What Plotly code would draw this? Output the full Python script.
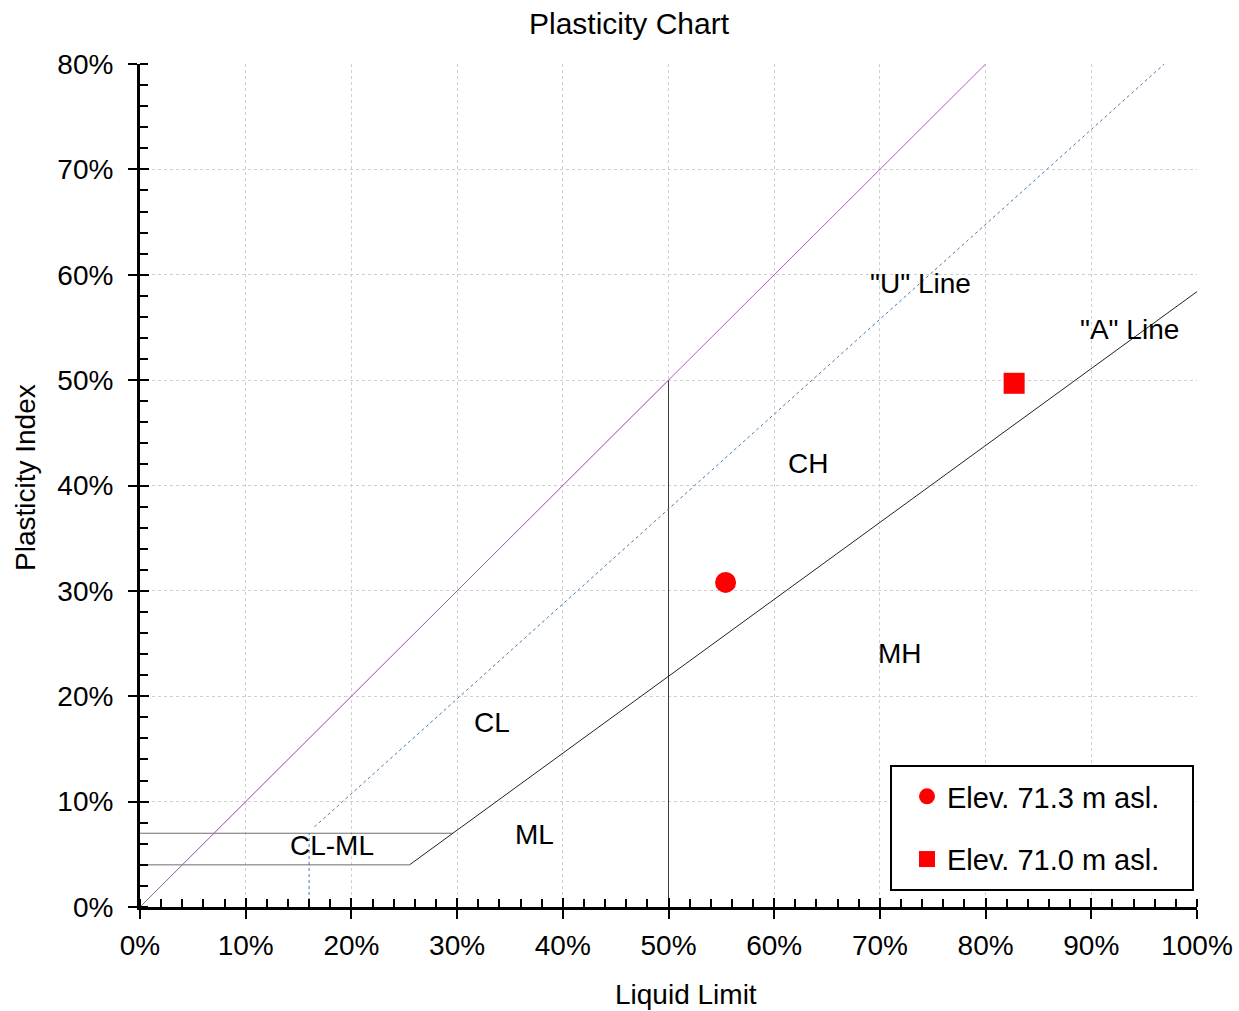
import plotly.graph_objects as go

# Casagrande plasticity chart: liquid limit (LL, %) vs plasticity index (PI, %)

# Reference lines (LL, PI pairs in %)
upper_ll = [0, 80]
upper_pi = [0, 80]
upper_lower_ll = [0, 50]
upper_lower_pi = [0, 50]
u_line_ll = [16.5, 96.9]
u_line_pi = [7.6, 80.0]
u_vert_ll = [16.0, 16.0]
u_vert_pi = [0.0, 7.0]
a_line_ll = [25.5, 29.6, 100.0]
a_line_pi = [4.0, 7.0, 58.4]
clml_top_ll = [0, 29.6]
clml_top_pi = [7.0, 7.0]
clml_bot_ll = [0, 25.5]
clml_bot_pi = [4.0, 4.0]
ll50_ll = [50, 50]
ll50_pi = [0, 50]

# Samples
sample_names = ["Elev. 71.3 m asl.", "Elev. 71.0 m asl."]
sample_ll = [55.4, 82.7]
sample_pi = [30.8, 49.7]

# Zone labels
zone_text = ["CL-ML", "CL", "ML", "CH", "MH", '"U" Line', '"A" Line']
zone_ll = [18.2, 33.3, 37.3, 63.2, 71.9, 73.8, 93.6]
zone_pi = [5.8, 17.5, 6.9, 42.1, 24.1, 59.2, 54.8]

x_ticks = [0, 10, 20, 30, 40, 50, 60, 70, 80, 90, 100]
y_ticks = [0, 10, 20, 30, 40, 50, 60, 70, 80]
x_tick_text = [f"{v}%" for v in x_ticks]
y_tick_text = [f"{v}%" for v in y_ticks]

FONT = "Arial, Liberation Sans, sans-serif"
FS = 28
fig = go.Figure()

def line(xs, ys, color, width=1, dash="solid", opacity=1.0):
    fig.add_trace(go.Scatter(x=xs, y=ys, mode="lines", showlegend=False,
                             hoverinfo="skip", opacity=opacity,
                             line=dict(color=color, width=width, dash=dash)))

line(clml_top_ll, clml_top_pi, "#6e6e6e")
line(clml_bot_ll, clml_bot_pi, "#6e6e6e")
line(ll50_ll, ll50_pi, "#3c3c3c")
line(upper_ll, upper_pi, "#b45cc4")
line(upper_lower_ll, upper_lower_pi, "#707070", opacity=0.35)
line(u_vert_ll, u_vert_pi, "#4a76b0", dash="dot")
line(u_line_ll, u_line_pi, "#4a76b0", dash="dot")
line(a_line_ll, a_line_pi, "#222222")

fig.add_trace(go.Scatter(x=[sample_ll[0]], y=[sample_pi[0]], mode="markers",
                         name=sample_names[0], legendgroup="a",
                         marker=dict(symbol="circle", size=21, color="#ff0000")))
fig.add_trace(go.Scatter(x=[sample_ll[1]], y=[sample_pi[1]], mode="markers",
                         name=sample_names[1], legendgroup="b",
                         marker=dict(symbol="square", size=21, color="#ff0000")))

# Inner halves of the major ticks (drawn by an overlaying axis pair)
fig.add_trace(go.Scatter(x=[None], y=[None], xaxis="x2", yaxis="y2",
                         showlegend=False, hoverinfo="skip"))

for t, lx, ly in zip(zone_text, zone_ll, zone_pi):
    fig.add_annotation(x=lx, y=ly, text=t, showarrow=False,
                       font=dict(size=FS, color="black", family=FONT))

fig.add_annotation(text="Liquid Limit", xref="paper", yref="paper",
                   x=(686 - 140) / 1057, y=-(994 - 907) / 843,
                   xanchor="center", yanchor="middle", showarrow=False,
                   font=dict(size=FS, color="black", family=FONT))
fig.add_annotation(text="Plasticity Index", xref="paper", yref="paper",
                   x=-(140 - 25) / 1057, y=(907 - 478) / 843, textangle=-90,
                   xanchor="center", yanchor="middle", showarrow=False,
                   font=dict(size=FS, color="black", family=FONT))

# Legend frame
fig.add_shape(type="rect", xref="paper", yref="paper",
              x0=(891 - 140) / 1057, x1=(1193 - 140) / 1057,
              y0=(907 - 890) / 843, y1=(907 - 766) / 843,
              line=dict(color="black", width=2), fillcolor="white", layer="above")

axis_common = dict(showline=True, linecolor="black", linewidth=3,
                   ticks="outside", ticklen=9, tickwidth=2, tickcolor="black",
                   showgrid=True, gridcolor="#cfcfcf", automargin=False,
                   griddash="dot", gridwidth=1, zeroline=False,
                   tickfont=dict(size=FS, color="black", family=FONT))

fig.update_layout(
    width=1239, height=1011,
    margin=dict(l=140, r=42, t=64, b=104, autoexpand=False),
    paper_bgcolor="white", plot_bgcolor="white",
    font=dict(family=FONT, color="black"),
    title=dict(text="Plasticity Chart", x=629 / 1239, xanchor="center",
               y=1 - 23 / 1011, yanchor="middle",
               font=dict(size=30, color="black", family=FONT)),
    xaxis=dict(range=[0, 100], tickvals=x_ticks, ticktext=x_tick_text,
               ticklabelstandoff=2,
               minor=dict(ticks="inside", dtick=2, ticklen=8, tickwidth=2,
                          tickcolor="black", showgrid=False),
               **axis_common),
    yaxis=dict(range=[0, 80], tickvals=y_ticks, ticktext=y_tick_text,
               ticklabelstandoff=9,
               minor=dict(ticks="inside", dtick=2, ticklen=8, tickwidth=2,
                          tickcolor="black", showgrid=False),
               **axis_common),
    xaxis2=dict(range=[0, 100], overlaying="x", anchor="y2", side="bottom",
                tickvals=x_ticks, ticks="inside", ticklen=9, tickwidth=2,
                tickcolor="black", showticklabels=False, showgrid=False,
                showline=False, zeroline=False, automargin=False),
    yaxis2=dict(range=[0, 80], overlaying="y", anchor="x2", side="left",
                tickvals=y_ticks, ticks="inside", ticklen=9, tickwidth=2,
                tickcolor="black", showticklabels=False, showgrid=False,
                showline=False, zeroline=False, automargin=False),
    legend=dict(x=(907 - 140) / 1057, y=(907 - 771) / 843,
                xanchor="left", yanchor="top",
                borderwidth=0, bgcolor="rgba(0,0,0,0)",
                tracegroupgap=22, itemsizing="trace",
                font=dict(size=29, color="black", family=FONT)),
    showlegend=True,
)

fig.write_html("out.html")
